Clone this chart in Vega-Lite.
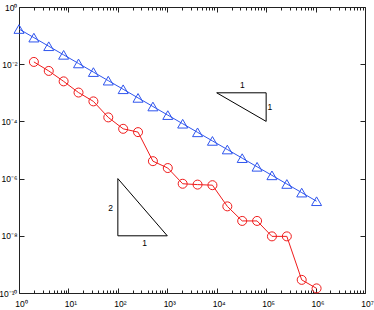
{
  "$schema": "https://vega.github.io/schema/vega-lite/v6.json",
  "width": 346,
  "height": 286,
  "autosize": {"type": "none"},
  "padding": {"left": 19, "top": 7, "right": 9, "bottom": 17},
  "background": "white",
  "config": {
    "view": {"stroke": null},
    "font": "Liberation Sans",
    "axis": {
      "domainColor": "#222",
      "domainWidth": 1,
      "tickColor": "#222",
      "tickWidth": 1,
      "labelFont": "Liberation Sans",
      "labelFontSize": 8.5,
      "labelColor": "#000",
      "grid": false,
      "title": null,
      "labelOverlap": false,
      "labelFlush": false
    }
  },
  "datasets": {
    "series": [
      {"s": "tri", "x": 1, "y": 0.17},
      {"s": "tri", "x": 2, "y": 0.085},
      {"s": "tri", "x": 4, "y": 0.0425},
      {"s": "tri", "x": 8, "y": 0.02125},
      {"s": "tri", "x": 16, "y": 0.010625},
      {"s": "tri", "x": 32, "y": 0.0053},
      {"s": "tri", "x": 64, "y": 0.00266},
      {"s": "tri", "x": 128, "y": 0.00133},
      {"s": "tri", "x": 256, "y": 0.000664},
      {"s": "tri", "x": 512, "y": 0.000332},
      {"s": "tri", "x": 1024, "y": 0.000166},
      {"s": "tri", "x": 2048, "y": 0.000083},
      {"s": "tri", "x": 4096, "y": 0.0000415},
      {"s": "tri", "x": 8192, "y": 0.0000208},
      {"s": "tri", "x": 16384, "y": 0.0000104},
      {"s": "tri", "x": 32768, "y": 0.00000519},
      {"s": "tri", "x": 65536, "y": 0.00000259},
      {"s": "tri", "x": 131072, "y": 0.0000013},
      {"s": "tri", "x": 262144, "y": 6.49e-7},
      {"s": "tri", "x": 524288, "y": 3.24e-7},
      {"s": "tri", "x": 1048576, "y": 1.62e-7},
      {"s": "circ", "x": 2, "y": 0.012},
      {"s": "circ", "x": 4, "y": 0.00582},
      {"s": "circ", "x": 8, "y": 0.00251},
      {"s": "circ", "x": 16, "y": 0.00102},
      {"s": "circ", "x": 32, "y": 0.000501},
      {"s": "circ", "x": 64, "y": 0.000138},
      {"s": "circ", "x": 128, "y": 0.000055},
      {"s": "circ", "x": 256, "y": 0.0000422},
      {"s": "circ", "x": 512, "y": 0.00000407},
      {"s": "circ", "x": 1024, "y": 0.00000234},
      {"s": "circ", "x": 2048, "y": 6.6e-7},
      {"s": "circ", "x": 4096, "y": 6.17e-7},
      {"s": "circ", "x": 8192, "y": 5.89e-7},
      {"s": "circ", "x": 16384, "y": 1.07e-7},
      {"s": "circ", "x": 32768, "y": 3.31e-8},
      {"s": "circ", "x": 65536, "y": 3.31e-8},
      {"s": "circ", "x": 131072, "y": 9.55e-9},
      {"s": "circ", "x": 262144, "y": 9.55e-9},
      {"s": "circ", "x": 524288, "y": 2.88e-10},
      {"s": "circ", "x": 1048576, "y": 1.45e-10}
    ],
    "guides": [
      {"g": "t1", "o": 0, "x": 10000, "y": 0.001},
      {"g": "t1", "o": 1, "x": 100000, "y": 0.001},
      {"g": "t1", "o": 2, "x": 100000, "y": 0.0001},
      {"g": "t1", "o": 3, "x": 10000, "y": 0.001},
      {"g": "t2", "o": 0, "x": 100, "y": 1e-6},
      {"g": "t2", "o": 1, "x": 100, "y": 1e-8},
      {"g": "t2", "o": 2, "x": 1000, "y": 1e-8},
      {"g": "t2", "o": 3, "x": 100, "y": 1e-6}
    ],
    "notes": [
      {"x": 33000, "y": 0.00183, "t": "1"},
      {"x": 119000, "y": 0.000328, "t": "1"},
      {"x": 71, "y": 9.3e-8, "t": "2"},
      {"x": 347, "y": 5.5e-9, "t": "1"}
    ]
  },
  "layer": [
    {
      "data": {"name": "series"},
      "mark": {"type": "line", "strokeWidth": 1},
      "encoding": {
        "x": {
          "field": "x", "type": "quantitative",
          "scale": {"type": "log", "domain": [1, 10000000], "nice": false},
          "axis": {
            "orient": "bottom",
            "values": [1,2,3,4,5,6,7,8,9,10,20,30,40,50,60,70,80,90,100,200,300,400,500,600,700,800,900,1000,2000,3000,4000,5000,6000,7000,8000,9000,10000,20000,30000,40000,50000,60000,70000,80000,90000,100000,200000,300000,400000,500000,600000,700000,800000,900000,1000000,2000000,3000000,4000000,5000000,6000000,7000000,8000000,9000000,10000000],
            "tickSize": {"condition": {"test": "abs(log(datum.value)/LN10 - round(log(datum.value)/LN10)) < 0.001", "value": -5}, "value": -3},
            "labelPadding": 11,
            "labelOffset": 2,
            "labelExpr": "abs(log(datum.value)/LN10 - round(log(datum.value)/LN10)) < 0.001 ? '10' + (round(log(datum.value)/LN10) < 0 ? '⁻' : '') + (abs(round(log(datum.value)/LN10)) == 10 ? '¹⁰' : ['⁰','¹','²','³','⁴','⁵','⁶','⁷','⁸','⁹'][abs(round(log(datum.value)/LN10))]) : ''"
          }
        },
        "y": {
          "field": "y", "type": "quantitative",
          "scale": {"type": "log", "domain": [1e-10, 1], "nice": false},
          "axis": {
            "orient": "left",
            "values": [1, 0.01, 0.0001, 0.000001, 1e-8, 1e-10],
            "tickSize": -5,
            "labelPadding": 7,
            "labelExpr": "'10' + (round(log(datum.value)/LN10) < 0 ? '⁻' : '') + (abs(round(log(datum.value)/LN10)) == 10 ? '¹⁰' : ['⁰','¹','²','³','⁴','⁵','⁶','⁷','⁸','⁹'][abs(round(log(datum.value)/LN10))])"
          }
        },
        "color": {"field": "s", "type": "nominal", "scale": {"domain": ["tri", "circ"], "range": ["#2f55ee", "#f01c1c"]}, "legend": null}
      }
    },
    {
      "data": {"name": "series"},
      "transform": [{"filter": "datum.s == 'tri'"}],
      "mark": {"type": "point", "shape": "triangle-up", "filled": false, "size": 100, "strokeWidth": 1, "color": "#2f55ee", "opacity": 1},
      "encoding": {
        "x": {"field": "x", "type": "quantitative", "axis": null},
        "y": {"field": "y", "type": "quantitative", "axis": null}
      }
    },
    {
      "data": {"name": "series"},
      "transform": [{"filter": "datum.s == 'circ'"}],
      "mark": {"type": "point", "shape": "circle", "filled": false, "size": 81, "strokeWidth": 1, "color": "#f01c1c", "opacity": 1},
      "encoding": {
        "x": {"field": "x", "type": "quantitative", "axis": null},
        "y": {"field": "y", "type": "quantitative", "axis": null}
      }
    },
    {
      "data": {"name": "guides"},
      "mark": {"type": "line", "color": "#000", "strokeWidth": 1},
      "encoding": {
        "x": {"field": "x", "type": "quantitative", "axis": null},
        "y": {"field": "y", "type": "quantitative", "axis": null},
        "detail": {"field": "g"},
        "order": {"field": "o", "type": "quantitative"}
      }
    },
    {
      "data": {"name": "notes"},
      "mark": {"type": "text", "fontSize": 8.5, "font": "Liberation Sans", "color": "#000", "align": "center", "baseline": "middle"},
      "encoding": {
        "x": {"field": "x", "type": "quantitative", "axis": null},
        "y": {"field": "y", "type": "quantitative", "axis": null},
        "text": {"field": "t"}
      }
    },
    {
      "data": {"name": "series"},
      "mark": {"type": "point", "opacity": 0},
      "encoding": {
        "x": {
          "field": "x", "type": "quantitative",
          "axis": {
            "orient": "top",
            "labels": false,
            "values": [1,2,3,4,5,6,7,8,9,10,20,30,40,50,60,70,80,90,100,200,300,400,500,600,700,800,900,1000,2000,3000,4000,5000,6000,7000,8000,9000,10000,20000,30000,40000,50000,60000,70000,80000,90000,100000,200000,300000,400000,500000,600000,700000,800000,900000,1000000,2000000,3000000,4000000,5000000,6000000,7000000,8000000,9000000,10000000],
            "tickSize": {"condition": {"test": "abs(log(datum.value)/LN10 - round(log(datum.value)/LN10)) < 0.001", "value": -5}, "value": -3}
          }
        },
        "y": {
          "field": "y", "type": "quantitative",
          "axis": {
            "orient": "right",
            "labels": false,
            "values": [1, 0.01, 0.0001, 0.000001, 1e-8, 1e-10],
            "tickSize": -5
          }
        }
      }
    }
  ],
  "resolve": {"axis": {"x": "independent", "y": "independent"}}
}
